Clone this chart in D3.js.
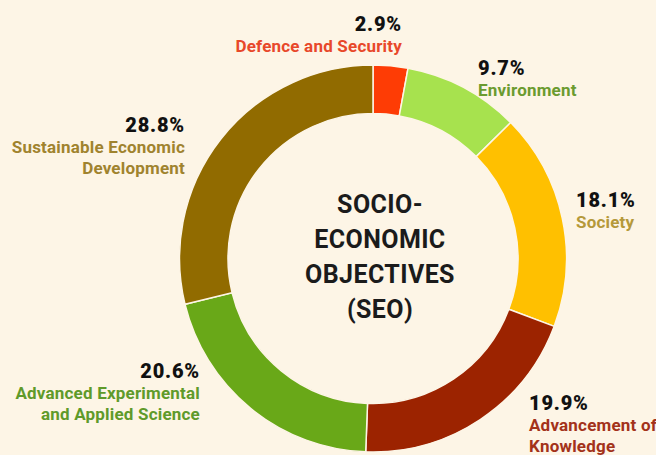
<!DOCTYPE html>
<html>
<head>
<meta charset="utf-8">
<script src="https://cdn.jsdelivr.net/npm/d3@7"></script>
<style>
  html, body { margin: 0; padding: 0; background: #fdf5e6; }
  svg { display: block; }
  text { font-family: Roboto, "DejaVu Sans", sans-serif; }
</style>
</head>
<body>
<svg id="chart" width="656" height="455"></svg>
<script>
// Share of research effort by socio-economic objective (SEO)
const categories = [
  "Defence and Security",
  "Environment",
  "Society",
  "Advancement of Knowledge",
  "Advanced Experimental and Applied Science",
  "Sustainable Economic Development"
];
const shares = [2.9, 9.7, 18.1, 19.9, 20.6, 28.8];
const nameLines = [
  ["Defence and Security"],
  ["Environment"],
  ["Society"],
  ["Advancement of", "Knowledge"],
  ["Advanced Experimental", "and Applied Science"],
  ["Sustainable Economic", "Development"]
];
const titleLines = ["SOCIO-", "ECONOMIC", "OBJECTIVES", "(SEO)"];

// Styling
const sliceColors = ["#fe3c05", "#a7e24e", "#ffc000", "#9c2300", "#69a818", "#916b00"];
const labelColors = ["#e8482a", "#6b9b2f", "#b5993a", "#a3321a", "#5f9a2a", "#a0832e"];

// Label placement: anchor, x, baseline of the percentage line
const labelLayout = [
  { anchor: "end",   x: 402, y: 31 },
  { anchor: "start", x: 478, y: 75 },
  { anchor: "start", x: 576, y: 207 },
  { anchor: "start", x: 529, y: 410 },
  { anchor: "end",   x: 200, y: 378 },
  { anchor: "end",   x: 185, y: 132 }
];

const width = 656, height = 455;
const cx = 373, cy = 258.5;
const outerR = 193.5, innerR = 145;

const svg = d3.select("#chart");
svg.append("rect").attr("width", width).attr("height", height).attr("fill", "#fdf5e6");

const data = categories.map((c, i) => ({ name: c, value: shares[i], i }));

const pie = d3.pie().value(d => d.value).sort(null);
const arc = d3.arc().innerRadius(innerR).outerRadius(outerR);

const g = svg.append("g").attr("transform", `translate(${cx},${cy})`);
g.selectAll("path.slice")
  .data(pie(data))
  .join("path")
  .attr("class", "slice")
  .attr("d", arc)
  .attr("fill", d => sliceColors[d.data.i])
  .attr("stroke", "#fdf5e6")
  .attr("stroke-width", 1.5);

// Centre title
const title = svg.append("text")
  .attr("text-anchor", "middle")
  .attr("font-size", 25)
  .attr("font-weight", 700)
  .attr("letter-spacing", 0.4)
  .attr("fill", "#1b1b1b");
titleLines.forEach((t, k) => {
  title.append("tspan").attr("x", 380).attr("y", 213 + k * 35).text(t);
});

// Slice labels: percentage above, category name below
const fmt = d3.format(".1f");
const labels = svg.selectAll("g.label")
  .data(data)
  .join("g")
  .attr("class", "label");

labels.append("text")
  .attr("x", d => labelLayout[d.i].x)
  .attr("y", d => labelLayout[d.i].y)
  .attr("text-anchor", d => labelLayout[d.i].anchor)
  .attr("font-size", 20)
  .attr("font-weight", 900)
  .attr("letter-spacing", 0.8)
  .attr("fill", "#111")
  .text(d => fmt(d.value) + "%");

labels.each(function(d) {
  const L = labelLayout[d.i];
  const t = d3.select(this).append("text")
    .attr("text-anchor", L.anchor)
    .attr("font-size", 17)
    .attr("font-weight", 700)
    .attr("letter-spacing", 0.2)
    .attr("fill", labelColors[d.i]);
  nameLines[d.i].forEach((line, k) => {
    t.append("tspan").attr("x", L.x).attr("y", L.y + 21 + k * 21).text(line);
  });
});
</script>
</body>
</html>
